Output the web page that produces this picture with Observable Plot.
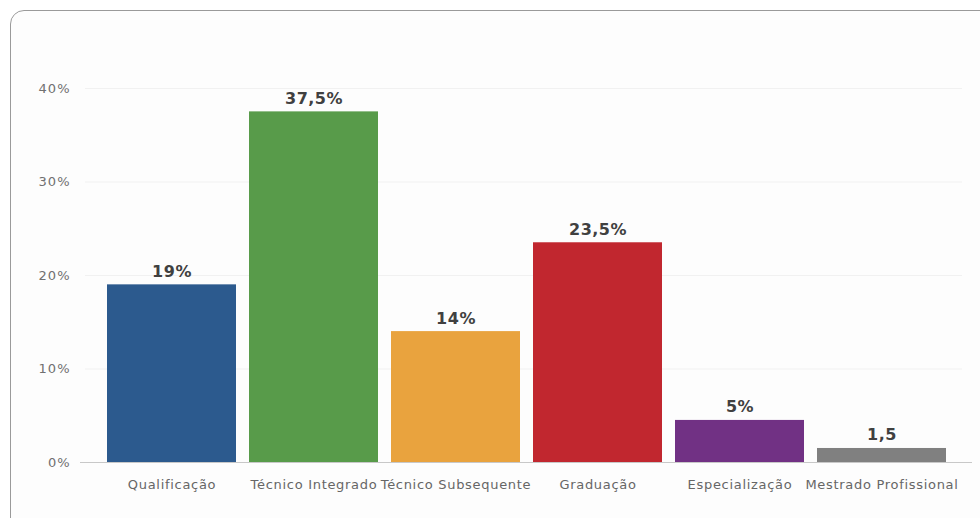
<!DOCTYPE html>
<html>
<head>
<meta charset="utf-8">
<script src="https://cdn.jsdelivr.net/npm/d3@7"></script>
<script src="https://cdn.jsdelivr.net/npm/@observablehq/plot@0.6"></script>
<style>
  html, body { margin: 0; padding: 0; background: #ffffff; }
  body { width: 980px; height: 518px; position: relative; overflow: hidden; font-family: "DejaVu Sans", sans-serif; }
  #box { position: absolute; left: 10px; top: 10px; width: 990px; height: 530px; border: 1.5px solid #9a9a9a; border-radius: 14px; background: #fdfdfd; box-sizing: border-box; }
  #chart { position: absolute; left: 0; top: 0; }
  #chart g[aria-label="x-axis tick label"] { letter-spacing: 0.7px; }
  #chart g[aria-label="y-axis tick label"] { letter-spacing: 1px; }
  #chart g[aria-label="text"] { letter-spacing: 0.5px; }
</style>
</head>
<body>
<div id="box"></div>
<div id="chart"></div>
<script>
const categories = ["Qualificação", "Técnico Integrado", "Técnico Subsequente", "Graduação", "Especialização", "Mestrado Profissional"];
const values = [19, 37.5, 14, 23.5, 4.5, 1.5];
const valueLabels = ["19%", "37,5%", "14%", "23,5%", "5%", "1,5"];
const colors = ["#2c5a8e", "#589b4a", "#e9a33e", "#c1272f", "#713184", "#808080"];
const yTicks = [0, 10, 20, 30, 40];
const yTickLabels = ["0%", "10%", "20%", "30%", "40%"];

const data = categories.map((c, i) => ({category: c, value: values[i], label: valueLabels[i], color: colors[i]}));

const chart = Plot.plot({
  width: 980,
  height: 518,
  marginLeft: 80,
  marginRight: 8,
  marginTop: 88,
  marginBottom: 56,
  style: { fontFamily: "'DejaVu Sans', sans-serif", background: "transparent", overflow: "visible" },
  x: { domain: categories, range: [94, 959], padding: 0.09, label: null },
  y: { domain: [0, 40], label: null },
  marks: [
    Plot.ruleY(yTicks.filter(d => d > 0), { stroke: "#f1f1f1", strokeWidth: 1, insetLeft: 5, insetRight: 10 }),
    Plot.barY(data, { x: "category", y: "value", fill: "color" }),
    Plot.ruleY([0], { stroke: "#c8c8c8", strokeWidth: 1 }),
    Plot.text(data, { x: "category", y: "value", text: "label", dy: -8, lineAnchor: "bottom", fontSize: 16, fontWeight: "bold", fill: "#404040" }),
    Plot.axisX({ tickSize: 0, tickPadding: 17, fontSize: 13, color: "#666", label: null }),
    Plot.axisY({ ticks: yTicks, tickFormat: (d) => yTickLabels[yTicks.indexOf(d)], tickSize: 0, tickPadding: 10, fontSize: 13, color: "#707070", label: null })
  ]
});
document.getElementById("chart").appendChild(chart);
</script>
</body>
</html>
